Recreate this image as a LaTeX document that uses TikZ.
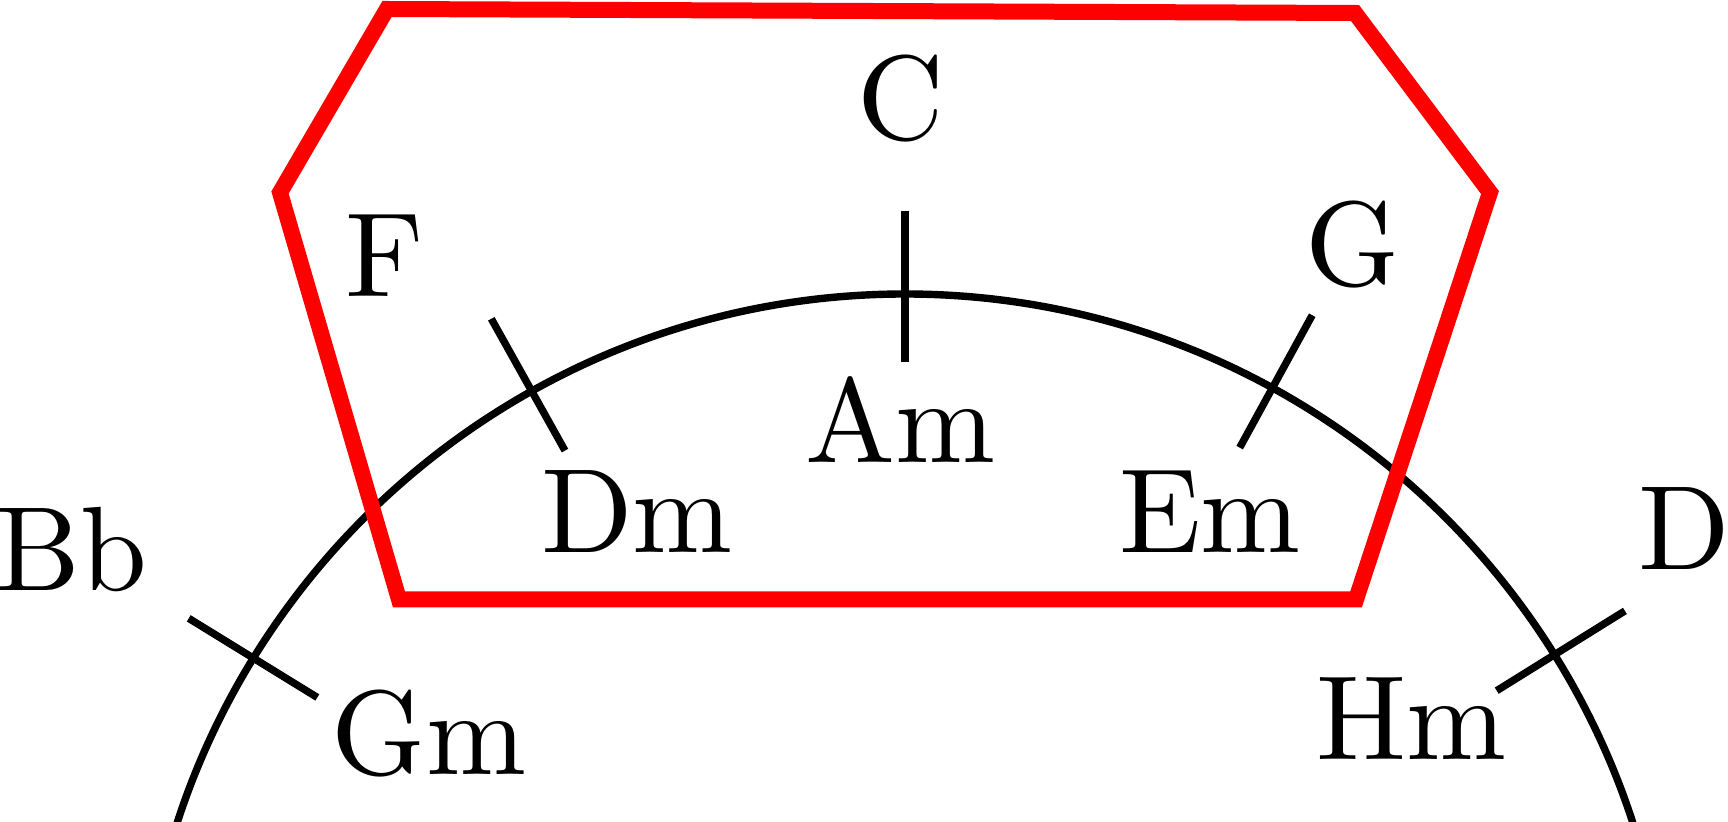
\documentclass[tikz,border=0pt]{standalone}
\usetikzlibrary{calc}
\begin{document}
\begin{tikzpicture}[x=0.25pt,y=0.25pt,
  ring/.style={line width=1.85pt},
  tickline/.style={line width=1.85pt},
  frame/.style={draw=red, line width=4pt},
  lbl/.style={anchor=base, inner sep=0pt, scale=3, font=\fontsize{10}{12}\selectfont}]
\useasboundingbox (0,-822) rectangle (1728,0);
\clip (0,-822) rectangle (1728,0);
\coordinate (O) at (905,-1059);
\draw[ring] (O) circle [radius=765];
\foreach \a/\ri/\ro in {90/697/848,119.2/697/848,61.3/697/848,148.4/690/841,31.9/697/848} {
  \draw[tickline] ($(O)+(\a:\ri)$) -- ($(O)+(\a:\ro)$);
}
\draw[frame] (387,-9) -- (1355,-13) -- (1490,-192.5) -- (1356,-599.5) -- (399,-599.5) -- (280,-192.5) -- cycle;
\node[lbl] (C) at (901,-140) {C};
\node[lbl] (F) at (385,-297) {F};
\node[lbl] (G) at (1353,-286) {G};
\node[lbl] (Am) at (900,-463) {Am};
\node[lbl] (Dm) at (637,-553) {Dm};
\node[lbl] (Em) at (1210,-553) {Em};
\node[lbl] (Bb) at (71.5,-591) {Bb};
\node[lbl] (D) at (1684,-570) {D};
\node[lbl] (Gm) at (429,-775) {Gm};
\node[lbl] (Hm) at (1411,-760) {Hm};
\end{tikzpicture}
\end{document}
